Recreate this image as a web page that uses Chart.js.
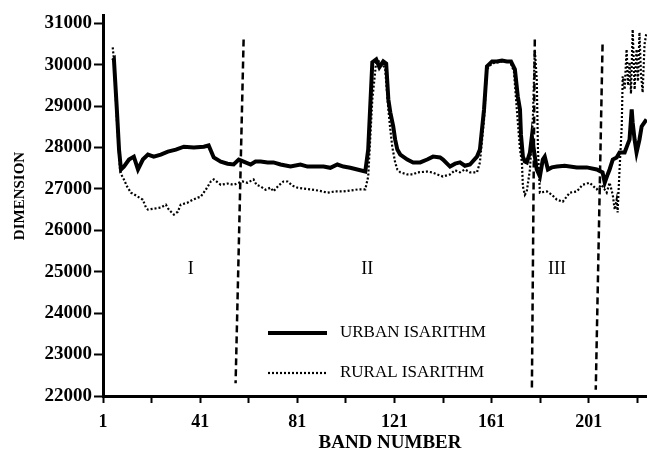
<!DOCTYPE html>
<html>
<head>
<meta charset="utf-8">
<script src="https://cdn.jsdelivr.net/npm/chart.js@4.4.1/dist/chart.umd.min.js"></script>
<style>
  html, body { margin: 0; padding: 0; background: #fff; }
  #wrap { width: 647px; height: 458px; }
</style>
</head>
<body>
<div id="wrap"><canvas id="chart" width="647" height="458"></canvas></div>
<script>
'use strict';
// Band numbers and dimension values
const urbanBands = [5, 5.5, 6.7, 7.6, 8.4, 9.6, 11.7, 13.7, 15.4, 17.4, 19.5, 21.9, 24.8, 27.7, 31, 34.3, 38.4, 42.5, 44.5, 46.6,
  49.5, 52.3, 54.8, 56.9, 58.9, 61.8, 63.8, 65.9, 68.8, 71.2, 74.1, 78.2, 82.3, 85.2, 87.7, 91.8, 94.6, 97.5, 100, 102.8,
  105.7, 109, 110.2, 111.9, 113.5, 114.8, 116.4, 117.6, 118.5, 119.3, 120.5, 121.3, 122.2, 123.4, 126.3, 128.7, 131.6, 134.5, 136.9, 139.8,
  141, 143.9, 146, 148, 150, 152.1, 155, 156.2, 157.9, 159.1, 161.2, 163.2, 165.3, 167.3, 169, 170.6, 171.8, 172.7, 173.1, 173.9,
  174.7, 175.5, 176.8, 177.6, 178.4, 179.6, 180.9, 182.1, 182.9, 184.2, 185.8, 187.9, 191.1, 196.1, 200.2, 204.3, 206.7, 207.6, 208.8, 209.6,
  210.9, 212.5, 213.7, 215.8, 217, 217.8, 218.7, 219.1, 219.9, 220.7, 221.9, 222.8, 224.8];
const urbanDim = [30100, 30130, 28920, 27950, 27470, 27540, 27710, 27780, 27470, 27710, 27830, 27780, 27830, 27900, 27950, 28020, 28000, 28020, 28050, 27760,
  27660, 27610, 27590, 27710, 27660, 27590, 27660, 27660, 27640, 27640, 27590, 27540, 27590, 27540, 27540, 27540, 27510, 27590, 27540, 27510,
  27470, 27420, 27950, 30060, 30130, 29940, 30080, 30030, 29160, 28850, 28510, 28190, 27950, 27830, 27710, 27640, 27640, 27710, 27780, 27760,
  27710, 27540, 27610, 27640, 27560, 27590, 27780, 27950, 28920, 29960, 30080, 30080, 30100, 30080, 30080, 29890, 29230, 28920, 28310, 27780,
  27660, 27640, 27880, 28270, 27950, 27470, 27300, 27710, 27780, 27470, 27520, 27540, 27560, 27520, 27520, 27470, 27400, 27150, 27350, 27470,
  27710, 27760, 27880, 27880, 28070, 28190, 28920, 28600, 28190, 27880, 28190, 28510, 28680];

const ruralBands = [5, 5.5, 6.7, 8, 8.8, 9.6, 10.9, 12.5, 14.6, 17.4, 18.7, 19.5, 21.5, 24.8, 26.9, 28.1, 30.2, 31.8, 33, 35.9,
  38, 40, 41.2, 43.3, 45.4, 46.6, 49.5, 52.3, 54.8, 56.9, 58.5, 60.5, 63, 64.2, 65.9, 67.9, 70, 71.2, 73.3, 75.3,
  77, 79, 81.1, 83.5, 86.4, 89.7, 93.4, 96.7, 100, 102.8, 106.1, 109, 110.2, 111.9, 113.5, 115.6, 117.2, 118.5, 119.3, 120.1,
  121.3, 122.2, 123.4, 126.3, 128.7, 130.4, 134.5, 136.5, 138.6, 141, 143.9, 146, 148, 150, 152.1, 155, 156.2, 157.9, 159.1, 161.2,
  165.3, 168.6, 170.2, 171.4, 172.7, 173.5, 173.9, 174.7, 175.5, 176.8, 178, 178.8, 179.6, 180.1, 180.9, 183.8, 185.8, 187.9, 190.3, 193.2,
  196.1, 198.5, 201.4, 204.3, 206.3, 208.4, 209.6, 210.9, 211.7, 212.5, 212.9, 213.7, 214.6, 215, 215.8, 216.6, 217.2, 217.8, 218.4, 219.1,
  219.9, 220.7, 221.3, 221.9, 222.5, 223.2, 224, 224.8];
const ruralDim = [30420, 30130, 28680, 27470, 27320, 27230, 27060, 26910, 26840, 26740, 26550, 26500, 26520, 26550, 26620, 26500, 26380, 26450, 26620, 26670,
  26740, 26790, 26810, 26980, 27180, 27230, 27100, 27130, 27100, 27150, 27180, 27150, 27230, 27100, 27060, 26980, 27030, 26940, 27080, 27180,
  27180, 27080, 27030, 27010, 26990, 26960, 26910, 26940, 26940, 26960, 26990, 26990, 27300, 29160, 30080, 30080, 29890, 28920, 28440, 28020,
  27640, 27470, 27400, 27350, 27350, 27400, 27420, 27400, 27350, 27300, 27350, 27450, 27400, 27470, 27400, 27400, 27640, 28680, 29890, 30030,
  30080, 30080, 29840, 28920, 27950, 27640, 27060, 26860, 26940, 27470, 28680, 30370, 29650, 27950, 26910, 26940, 26860, 26740, 26690, 26910,
  26940, 27100, 27150, 26990, 27100, 26910, 27150, 26860, 26500, 26740, 26430, 27470, 28510, 29720, 29400, 30370, 29500, 30060, 29300, 30850,
  29400, 30370, 29600, 30780, 29800, 29330, 30500, 30780];

// Dashed region dividers (slightly slanted in the original)
const dividerTopBand = [58.9, 178.8, 206.7];
const dividerTopDim = [30610, 30610, 30490];
const dividerBottomBand = [55.6, 177.6, 203.9];
const dividerBottomDim = [22310, 22150, 22150];

const regionLabels = ['I', 'II', 'III'];
const regionBands = [37.1, 109.8, 187.9];
const regionDim = [25050, 25050, 25050];

const seriesNames = ['URBAN ISARITHM', 'RURAL ISARITHM'];
const bandTicks = [1, 21, 41, 61, 81, 101, 121, 141, 161, 181, 201, 221];
const dimTicks = [22000, 23000, 24000, 25000, 26000, 27000, 28000, 29000, 30000, 31000];

const toPoints = (xs, ys) => xs.map((x, i) => ({ x: x, y: ys[i] }));

const datasets = [{
  label: seriesNames[0],
  data: toPoints(urbanBands, urbanDim),
  borderColor: '#000',
  borderWidth: 4,
  pointRadius: 0,
  showLine: true,
  tension: 0
}, {
  label: seriesNames[1],
  data: toPoints(ruralBands, ruralDim),
  borderColor: '#000',
  borderWidth: 2.2,
  borderDash: [2, 2],
  pointRadius: 0,
  showLine: true,
  tension: 0
}];

dividerTopBand.forEach((b, i) => {
  datasets.push({
    label: 'divider' + (i + 1),
    data: [{ x: b, y: dividerTopDim[i] }, { x: dividerBottomBand[i], y: dividerBottomDim[i] }],
    borderColor: '#000',
    borderWidth: 2.5,
    borderDash: [7, 4],
    pointRadius: 0,
    showLine: true
  });
});

const serif = "'Liberation Serif', 'Times New Roman', serif";

// white page, axis titles, region numerals and the in-plot legend
const decorations = {
  id: 'decorations',
  beforeDraw(chart) {
    const ctx = chart.ctx;
    ctx.save();
    ctx.fillStyle = '#fff';
    ctx.fillRect(0, 0, chart.width, chart.height);
    ctx.restore();
  },
  afterDraw(chart) {
    const ctx = chart.ctx;
    const xs = chart.scales.x, ys = chart.scales.y;
    ctx.save();
    ctx.fillStyle = '#000';
    ctx.textAlign = 'center';
    ctx.textBaseline = 'middle';

    ctx.font = 'bold 19px ' + serif;
    ctx.fillText('BAND NUMBER', 390, 443);

    ctx.save();
    ctx.translate(20, 196);
    ctx.rotate(-Math.PI / 2);
    ctx.font = 'bold 15px ' + serif;
    ctx.fillText('DIMENSION', 0, 0);
    ctx.restore();

    ctx.font = '18px ' + serif;
    regionLabels.forEach((t, i) => {
      ctx.fillText(t, xs.getPixelForValue(regionBands[i]), ys.getPixelForValue(regionDim[i]));
    });

    // legend
    ctx.strokeStyle = '#000';
    ctx.lineWidth = 4;
    ctx.beginPath();
    ctx.moveTo(268, 333);
    ctx.lineTo(327, 333);
    ctx.stroke();
    ctx.lineWidth = 2.2;
    ctx.setLineDash([2, 2]);
    ctx.beginPath();
    ctx.moveTo(268, 373);
    ctx.lineTo(327, 373);
    ctx.stroke();
    ctx.setLineDash([]);
    ctx.textAlign = 'left';
    ctx.font = '17px ' + serif;
    ctx.fillText(seriesNames[0], 340, 333);
    ctx.fillText(seriesNames[1], 340, 373);
    ctx.restore();
  }
};

const config = {
  type: 'scatter',
  data: { datasets: datasets },
  options: {
    responsive: false,
    animation: false,
    layout: { padding: { top: 15, right: 0, left: 0, bottom: 0 } },
    plugins: {
      legend: { display: false },
      tooltip: { enabled: false }
    },
    scales: {
      x: {
        type: 'linear',
        min: 1,
        max: 225,
        afterBuildTicks: (scale) => { scale.ticks = bandTicks.map(v => ({ value: v })); },
        afterFit: (scale) => { scale.height = 62; },
        ticks: {
          autoSkip: false,
          maxRotation: 0,
          padding: 9,
          color: '#000',
          font: { family: serif, size: 18, weight: 'bold' },
          callback: (v) => ((v - 1) % 40 === 0 ? String(v) : '')
        },
        grid: { drawOnChartArea: false, tickLength: 7, tickColor: '#000', tickWidth: 2 },
        border: { color: '#000', width: 3 }
      },
      y: {
        min: 22000,
        max: 31200,
        afterBuildTicks: (scale) => { scale.ticks = dimTicks.map(v => ({ value: v })); },
        afterFit: (scale) => { scale.width = 103; },
        ticks: {
          padding: 2,
          color: '#000',
          font: { family: serif, size: 19, weight: 'bold' },
          callback: (v) => String(v)
        },
        grid: { drawOnChartArea: false, tickLength: 9, tickColor: '#000', tickWidth: 2 },
        border: { color: '#000', width: 3 }
      }
    }
  },
  plugins: [decorations]
};

const canvasElem = document.getElementById('chart');
const myChart = new Chart(canvasElem, config);
</script>
</body>
</html>
